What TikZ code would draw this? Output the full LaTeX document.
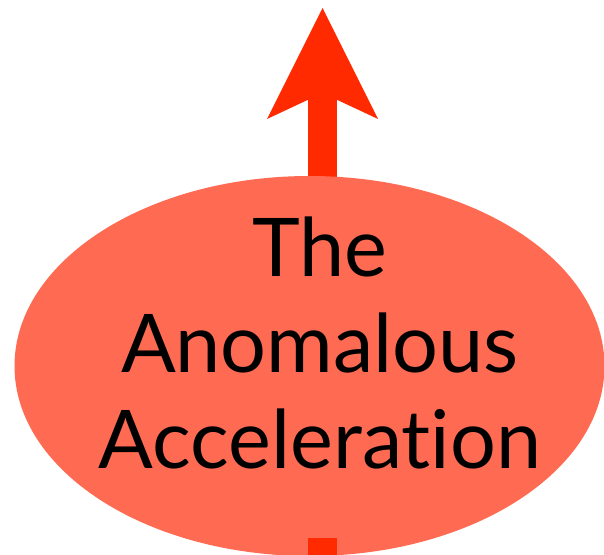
\documentclass[tikz,border=0pt]{standalone}
\usepackage{fontspec}
\setmainfont{Lato}[Ligatures={NoCommon,NoRare,NoDiscretionary}]
\usetikzlibrary{arrows.meta,shapes.geometric}
\definecolor{bubblered}{RGB}{255,106,82}
\definecolor{arrowred}{RGB}{255,42,0}

\begin{document}
\begin{tikzpicture}[x=1pt,y=-1pt,
  bubble/.style={ellipse,fill=bubblered,inner sep=0pt,minimum width=590pt,minimum height=380pt},
  caption/.style={align=center,inner sep=0pt,font=\fontsize{81}{96}\selectfont},
  shaft/.style={arrowred,line width=29pt},
  push/.style={shaft,-{Stealth[length=111pt,width=111pt,inset=26pt,line width=0pt]}}]
% The page: 604 by 554, nothing drawn past it.
\clip (0,0) rectangle (604,554);
% The force points straight up, from behind the ellipse.
\coordinate (tail) at (322.5,570);
\coordinate (tip) at (322.5,8);
\coordinate (stub) at (322.5,538);
\draw[push] (tail)--(tip);
\node[bubble] (accel) at (309.5,366) {};
% Only the foot of the shaft shows below the ellipse.
\draw[shaft] (stub)--(tail);
\node[caption] (title) at (320,342.5) {The\\Anomalous\\Acceleration};
\end{tikzpicture}
\end{document}
